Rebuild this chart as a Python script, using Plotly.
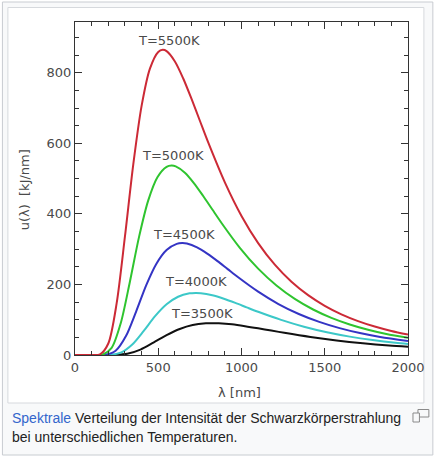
import plotly.graph_objects as go

# ---- data (wavelength in nm, u in kJ/nm) ----
lam_5500 = [0, 100, 150, 200, 250, 300, 350, 400, 450, 500, 527, 550, 600, 650, 700, 750, 800,
            900, 1000, 1100, 1200, 1300, 1400, 1500, 1600, 1700, 1800, 1900, 2000]
u_5500 = [0, 0, 1.8, 32.6, 146.1, 336.0, 540.4, 706.1, 811.8, 859.2, 865.0, 861.3, 832.1, 783.9,
          725.8, 664.1, 602.7, 489.5, 394.2, 317.2, 256.0, 207.7, 169.7, 139.5, 115.4, 96.2,
          80.7, 68.1, 57.9]

lam_5000 = [0, 110, 165, 220, 275, 330, 385, 440, 495, 550, 580, 605, 660, 715, 770, 825, 880,
            990, 1100, 1210, 1320, 1430, 1540, 1650, 1760, 1870, 2000]
u_5000 = [0, 0, 1.1, 20.2, 90.7, 208.6, 335.6, 438.4, 504.1, 533.5, 537.1, 534.8, 516.7, 486.7,
          450.6, 412.3, 374.3, 303.9, 244.8, 197.0, 159.0, 129.0, 105.3, 86.6, 71.7, 59.7, 48.7]

lam_4500 = [0, 122, 183, 244, 306, 367, 428, 489, 550, 611, 644, 672, 733, 794, 856, 917, 978,
            1100, 1222, 1344, 1467, 1589, 1711, 1833, 2000]
u_4500 = [0, 0, 0.6, 12.0, 53.6, 123.2, 198.2, 258.9, 297.7, 315.1, 317.2, 315.9, 305.1, 287.4,
          266.1, 243.5, 221.0, 179.5, 144.5, 116.3, 93.9, 76.2, 62.2, 51.1, 39.8]

lam_4000 = [0, 138, 206, 275, 344, 413, 481, 550, 619, 688, 724, 756, 825, 894, 963, 1031, 1100,
            1238, 1375, 1513, 1650, 1788, 1925, 2000]
u_4000 = [0, 0, 0.4, 6.6, 29.7, 68.4, 110.0, 143.7, 165.2, 174.8, 176.0, 175.3, 169.3, 159.5,
          147.7, 135.1, 122.6, 99.6, 80.2, 64.5, 52.1, 42.3, 34.5, 31.2]

lam_3500 = [0, 157, 236, 314, 393, 471, 550, 629, 707, 786, 828, 864, 943, 1021, 1100, 1179,
            1257, 1414, 1571, 1729, 1886, 2000]
u_3500 = [0, 0, 0.2, 3.4, 15.3, 35.1, 56.4, 73.7, 84.8, 89.7, 90.3, 89.9, 86.9, 81.8, 75.8, 69.3,
          62.9, 51.1, 41.2, 33.1, 26.7, 23.1]

labels = ["T=3500K", "T=4000K", "T=4500K", "T=5000K", "T=5500K"]
x_tickvals = [0, 500, 1000, 1500, 2000]
x_ticktext = ["0", "500", "1000", "1500", "2000"]
y_tickvals = [0, 200, 400, 600, 800]
y_ticktext = ["0", "200", "400", "600", "800"]
x_title = "λ [nm]"
y_title = "u(λ)  [kJ/nm]"
caption_link = "Spektrale"
caption_1 = " Verteilung der Intensität der Schwarzkörperstrahlung"
caption_2 = "bei unterschiedlichen Temperaturen."

# ---- layout geometry (pixels) ----
W, H = 437, 456
PL, PR, PT, PB = 75, 410, 22, 355


def px(x):
    return (x - PL) / (PR - PL)


def py(y):
    return (PB - y) / (PB - PT)


series = [
    (lam_3500, u_3500, "#111111"),
    (lam_4000, u_4000, "#3cc8c8"),
    (lam_4500, u_4500, "#3434c4"),
    (lam_5000, u_5000, "#2fc42f"),
    (lam_5500, u_5500, "#cc2a36"),
]

fig = go.Figure()
for (lx, uy, col), name in zip(series, labels):
    fig.add_trace(go.Scatter(x=lx, y=uy, mode="lines", name=name,
                             line=dict(color=col, width=2, shape="spline", smoothing=0.8),
                             showlegend=False, hoverinfo="skip"))

txt_font = dict(family="DejaVu Sans", size=13, color="#4a4a4a")
label_pos = [(764, 119), (728, 207), (657, 343), (591, 565), (567, 891)]
annotations = []
for name, (ax, ay) in zip(labels, label_pos):
    annotations.append(dict(x=ax, y=ay, xref="x", yref="y", text=name, showarrow=False,
                            font=txt_font, xanchor="center", yanchor="middle"))

annotations.append(dict(x=px(240), y=py(392), xref="paper", yref="paper", text=x_title,
                        showarrow=False, font=txt_font, xanchor="center", yanchor="middle"))
annotations.append(dict(x=px(25), y=py(190), xref="paper", yref="paper", text=y_title,
                        showarrow=False, font=txt_font, xanchor="center", yanchor="middle",
                        textangle=-90))

cap_font = dict(family="Liberation Sans", size=14, color="#222222")
annotations.append(dict(x=px(10), y=py(418), xref="paper", yref="paper",
                        text='<span style="color:#3366cc">' + caption_link + '</span>' + caption_1,
                        showarrow=False, font=cap_font, xanchor="left", yanchor="middle"))
annotations.append(dict(x=px(10), y=py(437), xref="paper", yref="paper", text=caption_2,
                        showarrow=False, font=cap_font, xanchor="left", yanchor="middle"))

shapes = [
    # outer thumbnail box
    dict(type="rect", xref="paper", yref="paper", x0=px(2), x1=px(435), y0=py(455), y1=py(2),
         fillcolor="#f8f9fa", line=dict(color="#c8ccd1", width=1), layer="below"),
    # image box
    dict(type="rect", xref="paper", yref="paper", x0=px(7.5), x1=px(426), y0=py(403), y1=py(7.5),
         fillcolor="#ffffff", line=dict(color="#d6d9dd", width=1), layer="below"),
    # magnify icon
    dict(type="rect", xref="paper", yref="paper", x0=px(420), x1=px(431), y0=py(417), y1=py(409.5),
         fillcolor="rgba(0,0,0,0)", line=dict(color="#8a8a8a", width=1), layer="above"),
    dict(type="rect", xref="paper", yref="paper", x0=px(415), x1=px(421.5), y0=py(422), y1=py(413),
         fillcolor="#f8f9fa", line=dict(color="#8a8a8a", width=1), layer="above"),
]

axis_common = dict(showline=True, linecolor="#333333", linewidth=1, mirror="ticks",
                   ticks="inside", ticklen=7, tickwidth=1, tickcolor="#333333",
                   showgrid=False, zeroline=False,
                   tickfont=dict(family="DejaVu Sans", size=13, color="#4a4a4a"))

fig.update_layout(
    width=W, height=H, autosize=False,
    margin=dict(l=PL, r=W - PR, t=PT, b=H - PB, pad=0),
    paper_bgcolor="#ffffff", plot_bgcolor="#ffffff",
    xaxis=dict(range=[0, 2000], tickvals=x_tickvals, ticktext=x_ticktext,
               minor=dict(dtick=100, ticklen=4, ticks="inside", tickcolor="#333333"),
               **axis_common),
    yaxis=dict(range=[0, 944], tickvals=y_tickvals, ticktext=y_ticktext,
               minor=dict(dtick=50, ticklen=4, ticks="inside", tickcolor="#333333"),
               **axis_common),
    annotations=annotations,
    shapes=shapes,
)

fig.write_html("out.html")
